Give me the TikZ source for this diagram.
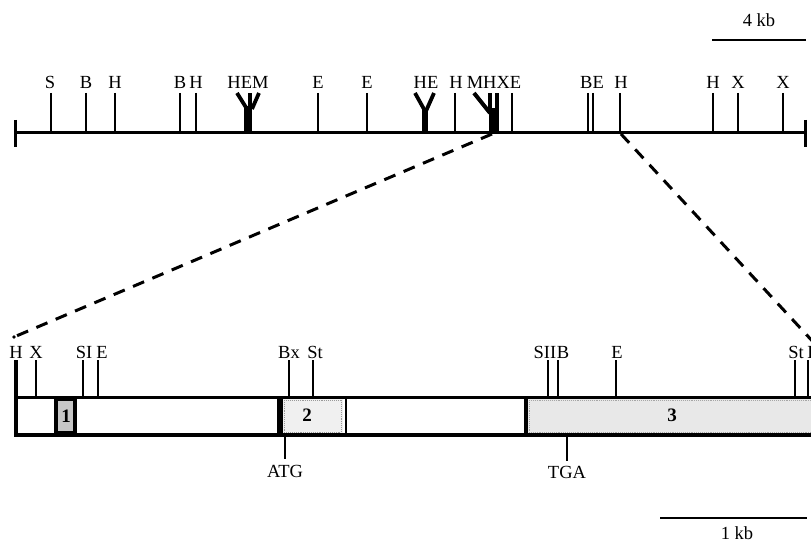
\documentclass[tikz,border=0pt]{standalone}
\usepackage{fontspec}
\setmainfont{Liberation Serif}
\begin{document}
\begin{tikzpicture}[x=1pt,y=-1pt,
  lbl/.style={inner sep=0pt,font=\fontsize{18.5}{20}\selectfont},
  tick/.style={line width=2.8pt},
  mapline/.style={line width=3pt},
  dashline/.style={line width=3pt,dash pattern=on 12pt off 9pt},
  exonnum/.style={inner sep=0pt,font=\fontsize{19}{20}\selectfont\bfseries}]
\useasboundingbox (0,0) rectangle (811,545);
\begin{scope}
\clip (0,0) rectangle (811,545);
% ---------- scale bar 4 kb
\coordinate (s4a) at (712,40);
\coordinate (s4b) at (806,40);
\draw[line width=2.4pt] (s4a) -- (s4b);
\node[lbl] (s4) at (759,20) {4 kb};
% ---------- top map
\coordinate (tl) at (15,133);
\coordinate (tr) at (805,133);
\draw[mapline] (tl) -- (tr);
\draw[mapline] (15,120) -- (15,147);
\draw[mapline] (805,120) -- (805,147);
\foreach \x in {51,86,115,180,196,318,367,455,512,588,593,620,713,738,783}
  \draw[tick] (\x,93) -- (\x,133);
% Y-shaped clusters
\draw[line width=8pt] (248,106) -- (248,134);
\draw[line width=3.8pt] (247,109) -- (237,93);
\draw[line width=3.4pt] (250,108) -- (250,93);
\draw[line width=3.8pt] (252,109) -- (259,93);
\draw[line width=6.5pt] (425,108) -- (425,134);
\draw[line width=3.8pt] (425,111) -- (415,93);
\draw[line width=3.8pt] (426,111) -- (434,93);
\draw[line width=7pt] (492,108) -- (492,134);
\draw[line width=4pt] (490,113) -- (474,93);
\draw[line width=3.4pt] (490,113) -- (490,93);
\draw[line width=3.4pt] (497,134) -- (497,93);
% labels top
\node[lbl] (tS) at (50,82) {S};
\node[lbl] (tB1) at (86,82) {B};
\node[lbl] (tH1) at (115,82) {H};
\node[lbl] (tB2) at (180,82) {B};
\node[lbl] (tH2) at (196,82) {H};
\node[lbl] (tHEM) at (248,82) {HEM};
\node[lbl] (tE1) at (318,82) {E};
\node[lbl] (tE2) at (367,82) {E};
\node[lbl] (tHE) at (426,82) {HE};
\node[lbl] (tH3) at (456,82) {H};
\node[lbl] (tMHXE) at (494,82) {MHXE};
\node[lbl] (tBE) at (592,82) {BE};
\node[lbl] (tH4) at (621,82) {H};
\node[lbl] (tH5) at (713,82) {H};
\node[lbl] (tX1) at (738,82) {X};
\node[lbl] (tX2) at (783,82) {X};
% ---------- dashed zoom lines
\coordinate (zl) at (492,134);
\coordinate (zr) at (621,134);
\coordinate (bl) at (14,337);
\coordinate (br) at (816,345);
\draw[dashline] (zl) -- (bl);
\fill (bl) circle (1.8pt);
\draw[dashline] (zr) -- (br);
% ---------- bottom map
% exon 3 fill
\fill[gray!18] (526,398) rectangle (811,434);
\draw[gray!70,densely dotted,line width=0.9pt] (529,400) -- (811,400) (529,432) -- (811,432) (529,400) -- (529,432);
% exon 2
\fill[gray!12] (280,398) rectangle (343,434);
\draw[gray!80,densely dotted,line width=0.9pt] (284,400) rectangle (341,432);
% exon 1
\filldraw[fill=gray!45,line width=4.5pt] (56,399) rectangle (75,433);
\draw[line width=5.5pt] (280,397) -- (280,436);
\draw[line width=2.2pt] (346,397) -- (346,436);
\draw[line width=3.5pt] (526,397) -- (526,436);
\draw[line width=3pt] (16,397) -- (811,397);
\draw[line width=4.5pt] (16,435) -- (811,435);
\draw[line width=3.4pt] (16,360) -- (16,437);
\foreach \x in {36,83,98,289,313,548,558,616,795,808}
  \draw[tick] (\x,360) -- (\x,397);
\node[exonnum] (n1) at (66,416) {1};
\node[exonnum] (n2) at (307,415) {2};
\node[exonnum] (n3) at (672,415) {3};
% labels bottom
\node[lbl] (bH1) at (16,352) {H};
\node[lbl] (bX) at (36,352) {X};
\node[lbl] (bSI) at (84,352) {SI};
\node[lbl] (bE1) at (102,352) {E};
\node[lbl] (bBx) at (289,352) {Bx};
\node[lbl] (bSt1) at (315,352) {St};
\node[lbl] (bSII) at (545,352) {SII};
\node[lbl] (bB) at (563,352) {B};
\node[lbl] (bE2) at (617,352) {E};
\node[lbl] (bSt2) at (796,352) {St};
\node[lbl] (bH2) at (814,352) {H};
% ATG / TGA
\draw[tick] (285,436) -- (285,459);
\node[lbl] (atg) at (285,471) {ATG};
\draw[tick] (567,436) -- (567,461);
\node[lbl] (tga) at (567,472) {TGA};
% ---------- scale bar 1 kb
\draw[line width=2.4pt] (660,518) -- (807,518);
\node[lbl] (s1) at (737,533) {1 kb};
\end{scope}
\end{tikzpicture}
\end{document}
